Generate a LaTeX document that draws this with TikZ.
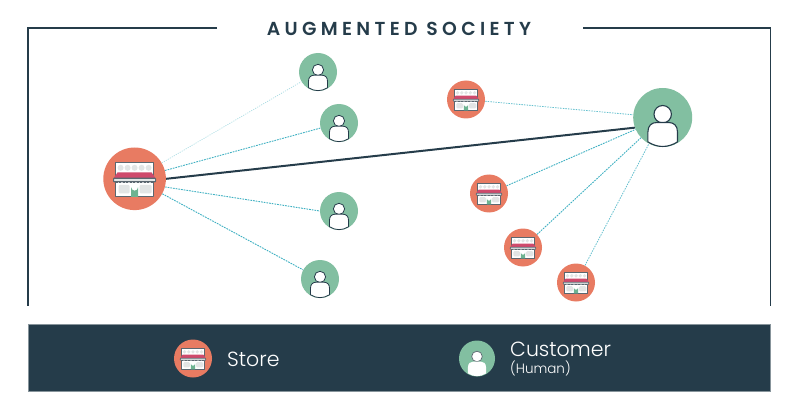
\documentclass[tikz,border=0pt]{standalone}
\usepackage{fontspec}
\setmainfont{Poppins}
\definecolor{salmon}{HTML}{E87B62}
\definecolor{leaf}{HTML}{82BFA1}
\definecolor{navy}{HTML}{253C4A}
\definecolor{iconline}{HTML}{5B6770}
\definecolor{awning}{HTML}{CF4A6C}
\definecolor{doorgreen}{HTML}{6DB391}
\definecolor{pane}{HTML}{E2E5E5}
\definecolor{teal}{HTML}{3FB0C2}
\definecolor{paleteal}{HTML}{A9DCE2}
\tikzset{
  x=1pt,y=-1pt,
  storedisc/.style={circle,fill=salmon,draw=none,inner sep=0pt,minimum size=#1},
  persondisc/.style={circle,fill=leaf,draw=none,inner sep=0pt,minimum size=#1},
  link/.style={draw=teal,line width=.9pt,dash pattern=on 1.7pt off 1pt},
  palelink/.style={draw=paleteal,line width=.7pt,dash pattern=on 1.1pt off 1.2pt},
  midlink/.style={draw=teal!80!white,line width=.8pt,dash pattern=on 1.5pt off 1.1pt},
  mainlink/.style={draw=navy,line width=2pt},
  framerule/.style={draw=navy,line width=1.8pt},
  storeicon/.pic={
    \path[draw=iconline,fill=white,line join=round] (-19,-16) rectangle (19,18);
    \foreach \u in {-14,-7,0,7,14} \fill[pane] (\u,-11) circle (3);
    \fill[pane,rounded corners=1.2] (-16,6) rectangle (-5,14.6);
    \fill[pane,rounded corners=1.2] (5,6) rectangle (17,14.6);
    \path[fill=doorgreen] (-3.4,18) -- (-3.4,8.5) arc[start angle=180,end angle=0,radius=3.4] -- (3.4,18) -- cycle;
    \path[fill=awning,draw=none] (-17,-6.5) -- (17,-6.5) -- (21,-.5) -- (-21,-.5) -- cycle;
    \path[draw=iconline,fill=pane,rounded corners=.6] (-21,-.5) rectangle (21,3);
    \draw[iconline,dash pattern=on 2pt off 1.5pt] (-19,3.9) -- (19,3.9);
  },
  personicon/.pic={
    \path[draw=navy,fill=white] (0,-3.3) circle (8.7);
    \path[draw=navy,fill=white] (-14.8,24.4) -- (-14.8,14.5) .. controls (-14.8,8) and (-11,5) .. (-6,5) -- (6,5) .. controls (11,5) and (14.8,8) .. (14.8,14.5) -- (14.8,24.4) .. controls (5,30.5) and (-5,30.5) .. (-14.8,24.4) -- cycle;
  },
  legendperson/.pic={
    \path[draw=iconline,fill=white] (0,-3.3) circle (8.7);
    \path[fill=white] (-14.8,24.4) -- (-14.8,14.5) .. controls (-14.8,8) and (-11,5) .. (-6,5) -- (6,5) .. controls (11,5) and (14.8,8) .. (14.8,14.5) -- (14.8,24.4) .. controls (5,30.5) and (-5,30.5) .. (-14.8,24.4) -- cycle;
  }
}
\newfontfamily\titlefont[LetterSpace=23]{Poppins SemiBold}
\newfontfamily\legendfont{Poppins Light}
\begin{document}
\begin{tikzpicture}
\useasboundingbox (0,0) rectangle (800,414);
% frame
\coordinate (fl) at (28,306);
\coordinate (ftl) at (28,28);
\coordinate (ftm) at (217,28);
\coordinate (fr) at (770.5,306);
\coordinate (ftr) at (770.5,28);
\coordinate (ftn) at (583,28);
\draw[framerule] (ftm) -- (ftl) -- (fl);
\draw[framerule] (ftn) -- (ftr) -- (fr);
\node[text=navy,font=\titlefont\fontsize{18.8}{20}\selectfont,anchor=center] (title) at (399,29) {AUGMENTED SOCIETY};
% band
\node[draw=navy!55!white,line width=.5pt,fill=navy,inner sep=0pt,minimum width=742.5pt,minimum height=67pt,anchor=center] (band) at (399.3,357.5) {};
% discs
\node[storedisc=62.6pt] (bs) at (134.6,178.8) {};
\node[persondisc=59pt] (bc) at (662.7,117.5) {};
\node[persondisc=38pt] (c1) at (318,72) {};
\node[persondisc=38pt] (c2) at (339,123) {};
\node[persondisc=38pt] (c3) at (339,211) {};
\node[persondisc=38pt] (c4) at (320,279) {};
\node[storedisc=38pt] (s1) at (466,99.5) {};
\node[storedisc=38pt] (s2) at (489,193.5) {};
\node[storedisc=38pt] (s3) at (523,247.5) {};
\node[storedisc=38pt] (s4) at (576,282.5) {};
\node[storedisc=38pt] (ls) at (193,358.5) {};
\node[persondisc=36pt] (lc) at (477,358.5) {};
% links
\draw[palelink] (bs) -- (c1);
\draw[link] (bs) -- (c2);
\draw[link] (bs.-15) -- (c3.west);
\draw[link] (bs) -- (c4);
\draw[midlink] (s1) -- (bc);
\draw[link] (s2) -- (bc);
\draw[link] (s3) -- (bc);
\draw[midlink] (s4) -- (bc);
\draw[mainlink] (bs.east) -- (bc.200);
% icons
\pic[line width=1.1pt] at (bs) {storeicon};
\foreach \n in {s1,s2,s3,s4,ls} \pic[scale=.607,line width=.75pt] at (\n) {storeicon};
\pic[line width=1.1pt] at (bc) {personicon};
\foreach \n in {c1,c2,c3,c4} \pic[scale=.644,line width=.8pt] at (\n) {personicon};
\pic[scale=.61,line width=.7pt] at (lc) {legendperson};
% legend text
\node[text=white,font=\legendfont\fontsize{20.5}{22}\selectfont,anchor=west,inner sep=0pt] (lst) at (227,359) {Store};
\node[text=white,font=\legendfont\fontsize{20.5}{22}\selectfont,anchor=west,inner sep=0pt] (lct) at (510,349) {Customer};
\node[text=white,font=\legendfont\fontsize{13.5}{15}\selectfont,anchor=west,inner sep=0pt] (lch) at (510,368) {(Human)};
\end{tikzpicture}
\end{document}
